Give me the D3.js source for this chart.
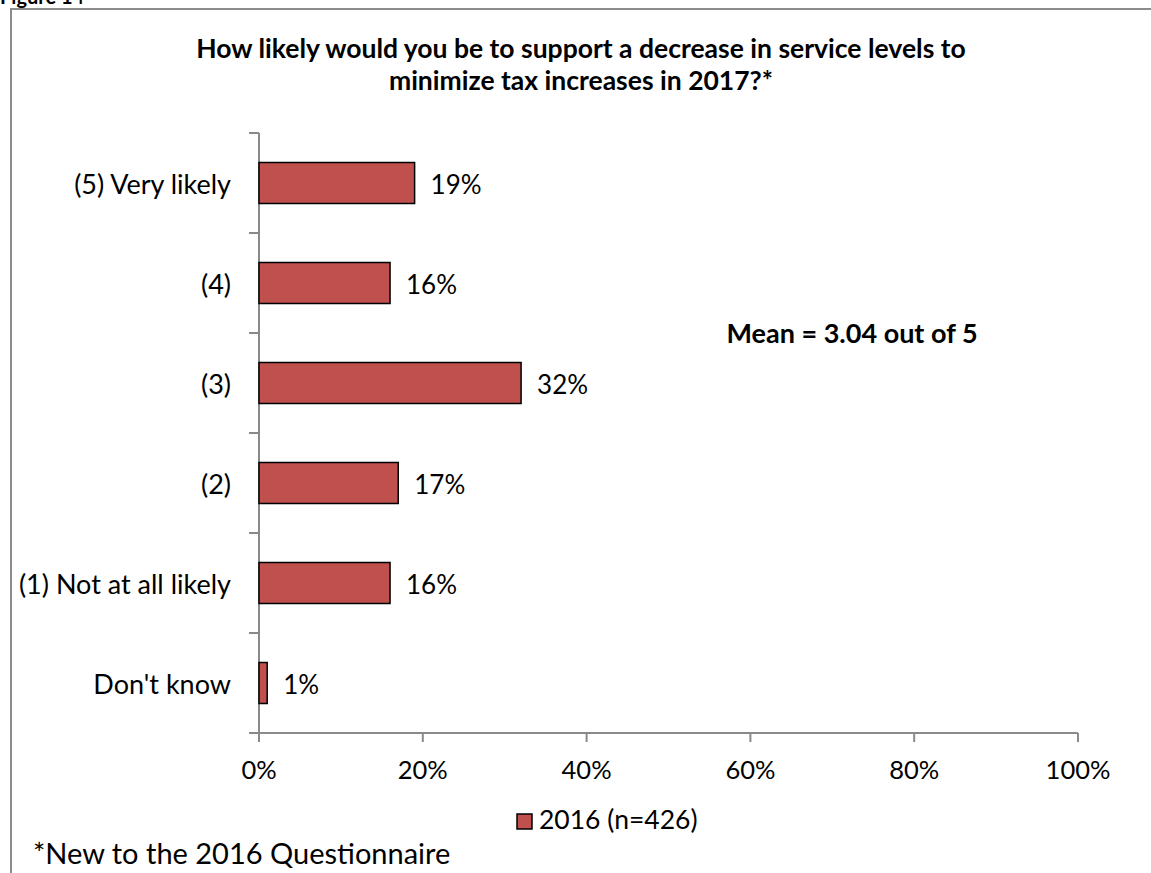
<!DOCTYPE html>
<html>
<head>
<meta charset="utf-8">
<script src="https://cdn.jsdelivr.net/npm/d3@7"></script>
<style>
  html, body { margin: 0; padding: 0; background: #fff; }
  svg { display: block; font-family: Lato, "Open Sans", sans-serif; }
</style>
</head>
<body>
<svg id="chart" width="1151" height="873"></svg>
<script>
// Survey responses, top to bottom
const categories = ["(5) Very likely", "(4)", "(3)", "(2)", "(1) Not at all likely", "Don't know"];
const values2016 = [19, 16, 32, 17, 16, 1];
const xTicks = [0, 20, 40, 60, 80, 100];
const seriesName = "2016 (n=426)";
const titleLines = ["How likely would you be to support a decrease in service levels to",
                    "minimize tax increases in 2017?*"];
const meanNote = "Mean = 3.04 out of 5";
const footnote = "*New to the 2016 Questionnaire";
const figureLabel = "Figure 14";

const svg = d3.select("#chart");
const barColor = "#c0504d";
const axisColor = "#8a8a8a";

const plot = { left: 259, right: 1078, top: 133, bottom: 733 };

const x = d3.scaleLinear().domain([0, 100]).range([plot.left, plot.right]);
const y = d3.scaleBand().domain(categories)
  .range([plot.top, plot.bottom]).paddingInner(0.59).paddingOuter(0.295);
const yEdges = d3.scaleLinear().domain([0, categories.length]).range([plot.top, plot.bottom]);

// Frame around the figure
svg.append("path")
  .attr("d", `M11,873 V9 H1151`)
  .attr("fill", "none").attr("stroke", "#8c8c8c").attr("stroke-width", 2);

// Figure label (mostly clipped at the top edge)
svg.append("text").attr("x", 0).attr("y", 4)
  .attr("font-weight", "bold").attr("font-size", 20).text(figureLabel);

// Title
svg.append("g").selectAll("text").data(titleLines).join("text")
  .attr("x", 581).attr("y", (d, i) => 58 + i * 32)
  .attr("text-anchor", "middle").attr("font-weight", "bold")
  .attr("font-size", 26.5).attr("fill", "#000").text(d => d);

// Y axis: line with ticks at category boundaries
const yAxis = svg.append("g");
yAxis.append("line").attr("x1", plot.left).attr("x2", plot.left)
  .attr("y1", plot.top).attr("y2", plot.bottom)
  .attr("stroke", axisColor).attr("stroke-width", 2);
yAxis.selectAll("line.tick").data(d3.range(categories.length + 1)).join("line")
  .attr("class", "tick")
  .attr("x1", plot.left - 10).attr("x2", plot.left)
  .attr("y1", d => yEdges(d)).attr("y2", d => yEdges(d))
  .attr("stroke", axisColor).attr("stroke-width", 2);

// X axis
const xAxis = svg.append("g");
xAxis.append("line").attr("x1", plot.left - 10).attr("x2", plot.right)
  .attr("y1", plot.bottom).attr("y2", plot.bottom)
  .attr("stroke", axisColor).attr("stroke-width", 2);
xAxis.selectAll("line.tick").data(xTicks).join("line")
  .attr("class", "tick")
  .attr("x1", d => x(d)).attr("x2", d => x(d))
  .attr("y1", plot.bottom).attr("y2", plot.bottom + 9)
  .attr("stroke", axisColor).attr("stroke-width", 2);
xAxis.selectAll("text").data(xTicks).join("text")
  .attr("x", d => x(d)).attr("y", 779)
  .attr("text-anchor", "middle").attr("font-size", 25.5).attr("fill", "#000")
  .text(d => d + "%");

// Category labels
svg.append("g").selectAll("text").data(categories).join("text")
  .attr("x", 231).attr("y", d => y(d) + y.bandwidth() / 2 + 2)
  .attr("dy", "0.35em").attr("text-anchor", "end")
  .attr("font-size", 27).attr("fill", "#000").text(d => d);

// Bars
const rows = categories.map((c, i) => ({ c, v: values2016[i] }));
svg.append("g").selectAll("rect").data(rows).join("rect")
  .attr("x", x(0)).attr("y", d => y(d.c))
  .attr("width", d => x(d.v) - x(0)).attr("height", y.bandwidth())
  .attr("fill", barColor).attr("stroke", "#000").attr("stroke-width", 1.5);

// Value labels
svg.append("g").selectAll("text").data(rows).join("text")
  .attr("x", d => x(d.v) + 16).attr("y", d => y(d.c) + y.bandwidth() / 2 + 2)
  .attr("dy", "0.35em").attr("font-size", 26).attr("fill", "#000")
  .text(d => d.v + "%");

// Mean annotation
svg.append("text").attr("x", 852).attr("y", 343)
  .attr("text-anchor", "middle").attr("font-weight", "bold")
  .attr("font-size", 27).attr("fill", "#000").text(meanNote);

// Legend
const legend = svg.append("g");
legend.append("rect").attr("x", 517).attr("y", 814).attr("width", 15).attr("height", 15)
  .attr("fill", barColor).attr("stroke", "#000").attr("stroke-width", 1.5);
legend.append("text").attr("x", 539).attr("y", 829)
  .attr("font-size", 26.5).attr("fill", "#000").text(seriesName);

// Footnote
svg.append("text").attr("x", 33).attr("y", 864)
  .attr("font-size", 29).attr("fill", "#000").text(footnote);
</script>
</body>
</html>
